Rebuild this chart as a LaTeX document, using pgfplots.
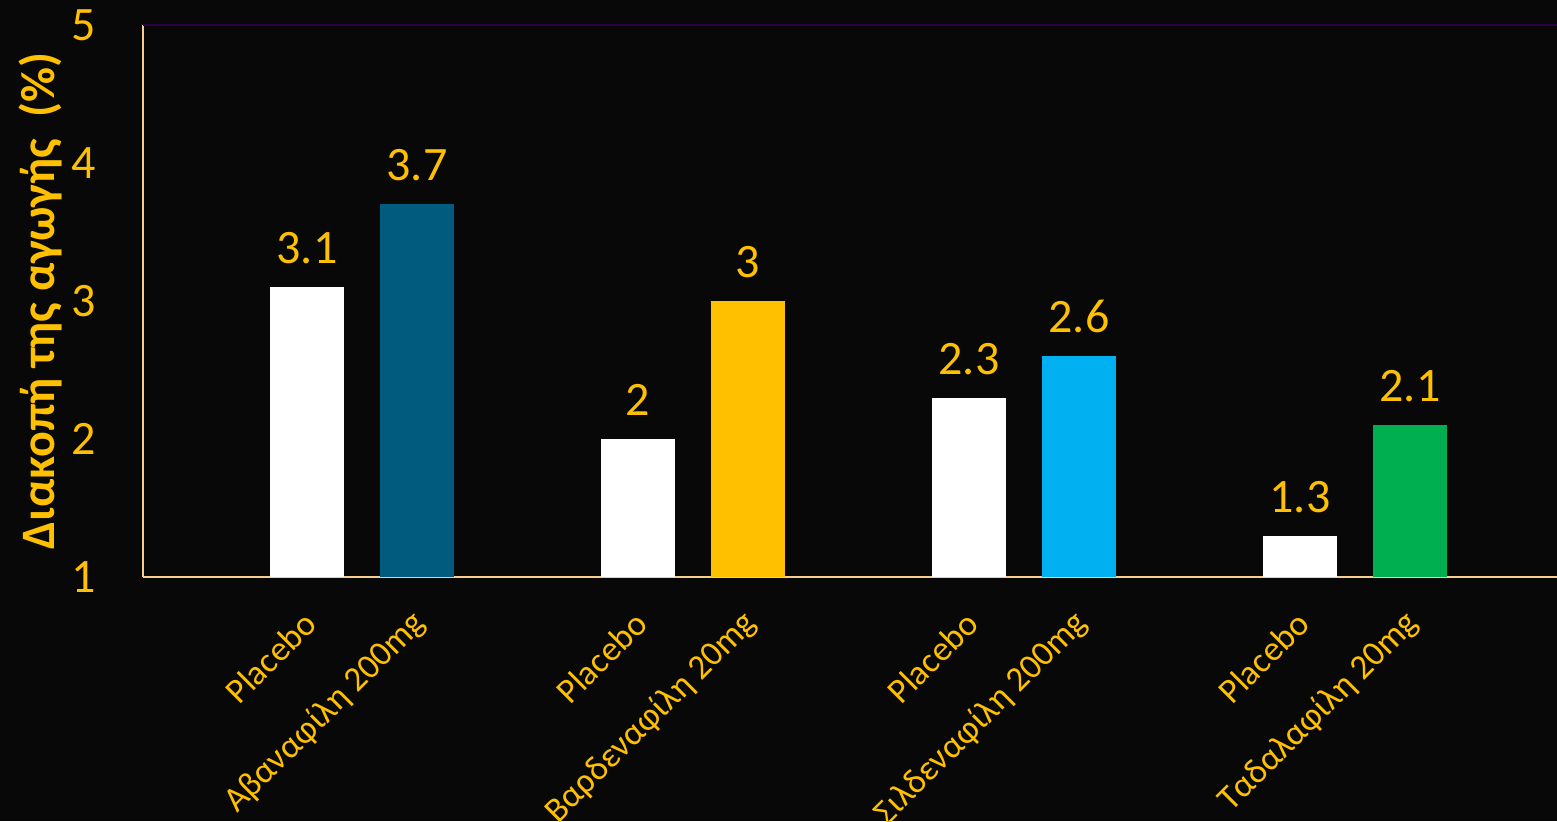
\documentclass[border=0pt]{standalone}
\usepackage{pgfplots}
\pgfplotsset{compat=1.18}
\usepackage{fontspec}
\setmainfont{Carlito}
\definecolor{bg}{HTML}{080808}
\definecolor{gold}{HTML}{FFC000}
\definecolor{axisc}{HTML}{F6CF90}
\definecolor{topc}{HTML}{2A0048}
\definecolor{avan}{HTML}{005B7F}
\definecolor{vard}{HTML}{FFC000}
\definecolor{sild}{HTML}{00B0F0}
\definecolor{tada}{HTML}{00B050}
\begin{document}
\begin{tikzpicture}
\path[fill=bg, use as bounding box] (0,0) rectangle (778.5pt,410.5pt);
\begin{axis}[
  at={(71.5pt,122pt)}, anchor=south west,
  scale only axis, width=707pt, height=276pt,
  xmin=143, xmax=1557, ymin=1, ymax=5,
  axis x line=bottom, axis y line=left,
  axis line style={-, draw=axisc, line width=1pt},
  ytick={1,2,3,4,5},
  xtick={307,417,638,748,969,1079,1300,1410},
  xticklabels={Placebo, Αβαναφίλη 200mg, Placebo, Βαρδεναφίλη 20mg, Placebo, Σιλδεναφίλη 200mg, Placebo, Ταδαλαφίλη 20mg},
  major tick length=0pt,
  /pgf/number format/assume math mode=true,
  ticklabel style={text=gold},
  yticklabel style={font=\fontsize{24}{28}\selectfont, xshift=-20pt},
  xticklabel style={font=\fontsize{17.5}{21}\selectfont, xshift=4pt, yshift=-18pt, rotate=45, anchor=east},
  ylabel={Διακοπή της αγωγής~ (\%)},
  ylabel style={at={(axis description cs:-0.0728,0.5)}, anchor=center, font=\bfseries\fontsize{24}{28}\selectfont, text=gold},
  ybar, bar width=74, bar shift=0pt,
  nodes near coords,
  nodes near coords style={text=gold, font=\fontsize{24}{28}\selectfont, yshift=8pt},
  extra y ticks={5}, extra y tick labels={},
  extra y tick style={grid=major, major grid style={draw=topc, line width=1pt}},
]
\addplot[fill=white, draw=none] coordinates {(307,3.1)};
\addplot[fill=avan, draw=none] coordinates {(417,3.7)};
\addplot[fill=white, draw=none] coordinates {(638,2)};
\addplot[fill=vard, draw=none] coordinates {(748,3)};
\addplot[fill=white, draw=none] coordinates {(969,2.3)};
\addplot[fill=sild, draw=none] coordinates {(1079,2.6)};
\addplot[fill=white, draw=none] coordinates {(1300,1.3)};
\addplot[fill=tada, draw=none] coordinates {(1410,2.1)};
\end{axis}
\end{tikzpicture}
\end{document}
